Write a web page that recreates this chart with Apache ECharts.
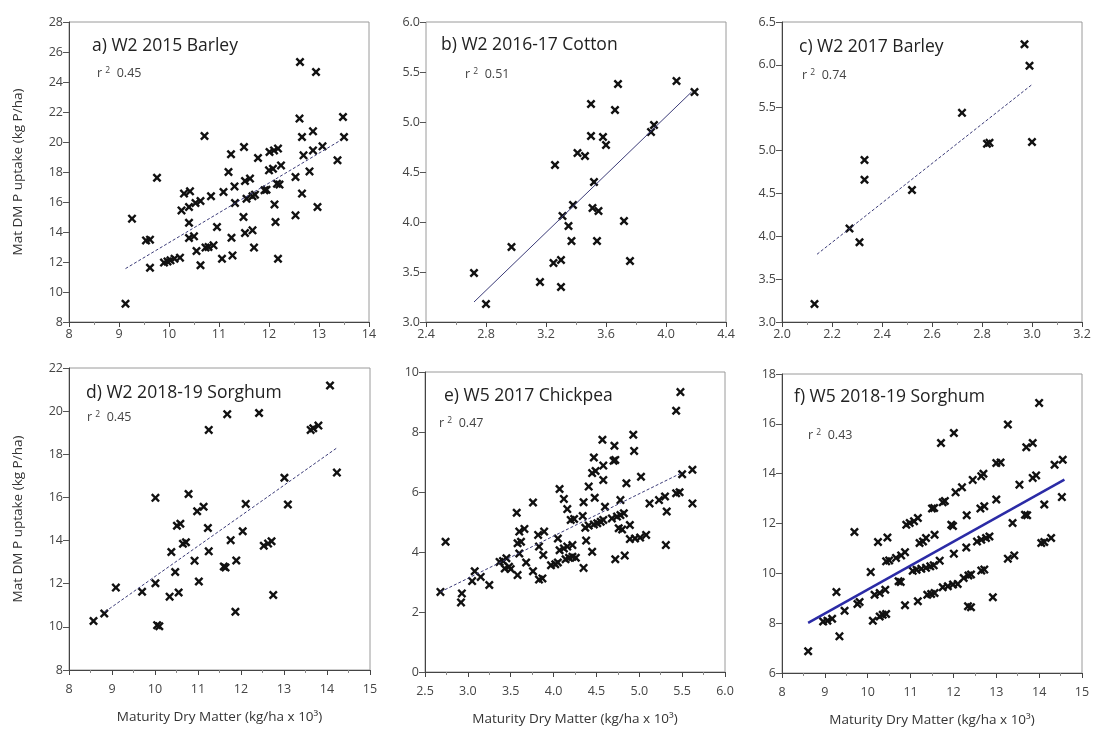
<!DOCTYPE html>
<html>
<head>
<meta charset="utf-8">
<script src="https://cdn.jsdelivr.net/npm/echarts@6/dist/echarts.min.js"></script>
<style>
html,body{margin:0;padding:0;background:#fff;}
#chart{width:1094px;height:736px;}
</style>
</head>
<body>
<div id="chart"></div>
<script>
// ---------- DATA ----------
const panelTitles = ['a) W2 2015 Barley','b) W2 2016-17 Cotton','c) W2 2017 Barley','d) W2 2018-19 Sorghum','e) W5 2017 Chickpea','f) W5 2018-19 Sorghum'];
const r2Values = ['0.45','0.51','0.74','0.45','0.47','0.43'];
const yAxisName = 'Mat DM P uptake (kg P/ha)';
const xAxisName = 'Maturity Dry Matter (kg/ha x 10³)';

const ptsA = [[9.13,9.22],[9.26,14.89],[9.76,17.62],[9.54,13.44],[9.62,13.49],[9.62,11.62],[9.90,11.96],[9.97,12.04],[10.03,12.11],[10.11,12.22],[10.22,12.29],
[10.63,11.78],[10.55,12.73],[10.73,12.96],[10.79,13.0],[10.89,13.11],[10.40,13.6],[10.50,13.71],[10.40,14.62],[10.25,15.44],[10.40,15.67],[10.53,15.93],[10.63,16.07],
[10.30,16.56],[10.42,16.71],[10.84,16.38],[10.71,20.4],[10.96,14.33],[11.06,12.22],[11.27,12.44],[11.25,13.62],[11.09,16.67],[11.32,15.93],[11.31,17.04],[11.19,18.0],
[11.24,19.18],[11.50,19.67],[11.49,15.0],[11.52,13.93],[11.67,14.11],[11.70,12.96],[11.52,17.4],[11.62,17.56],[11.55,16.22],[11.67,16.38],[11.72,16.49],[11.78,18.93],
[11.91,16.78],[11.95,16.82],[12.0,18.11],[12.08,18.22],[12.01,19.33],[12.10,19.44],[12.18,19.56],[12.24,18.44],[12.11,15.84],[12.13,14.67],[12.18,12.22],[12.16,17.22],
[12.21,17.16],[12.53,17.67],[12.53,15.11],[12.66,16.56],[12.69,19.11],[12.66,20.33],[12.61,21.56],[12.62,25.33],[12.94,24.67],[12.81,18.04],[12.88,20.71],[12.88,19.44],
[12.97,15.67],[13.07,19.71],[13.37,18.78],[13.48,21.67],[13.50,20.33]];
const trendA = [[9.13,11.56],[13.43,20.11]];

const ptsB = [[2.72,3.49],[2.80,3.18],[2.97,3.75],[3.16,3.40],[3.25,3.59],[3.30,3.62],[3.30,3.35],[3.26,4.57],[3.31,4.06],[3.35,3.96],[3.38,4.17],[3.37,3.81],
[3.41,4.69],[3.46,4.66],[3.50,5.18],[3.50,4.86],[3.52,4.40],[3.51,4.14],[3.55,4.11],[3.54,3.81],[3.58,4.85],[3.60,4.77],[3.66,5.12],[3.68,5.38],[3.72,4.01],
[3.76,3.61],[3.90,4.90],[3.92,4.97],[4.07,5.41],[4.19,5.30]];
const trendB = [[2.72,3.20],[4.17,5.30]];

const ptsC = [[2.13,3.21],[2.27,4.09],[2.31,3.93],[2.33,4.89],[2.33,4.66],[2.52,4.54],[2.72,5.44],[2.82,5.08],[2.83,5.09],[2.97,6.24],[2.99,5.99],[3.00,5.10]];
const trendC = [[2.14,3.79],[3.0,5.77]];

const ptsD = [[8.57,10.27],[8.82,10.62],[9.09,11.82],[9.70,11.63],[10.01,12.02],[10.01,15.98],[10.05,10.08],[10.10,10.03],[10.34,11.40],[10.55,11.59],[10.47,12.54],
[10.38,13.47],[10.51,14.69],[10.59,14.78],[10.65,13.85],[10.72,13.92],[10.78,16.16],[10.92,13.07],[11.02,12.1],[10.98,15.36],[11.13,15.57],[11.25,19.13],[11.23,14.58],
[11.25,13.5],[11.60,12.80],[11.64,12.75],[11.76,14.02],[11.68,19.86],[11.89,13.08],[11.87,10.70],[12.04,14.43],[12.11,15.70],[12.42,19.91],[12.53,13.76],[12.63,13.86],
[12.71,13.97],[12.75,11.48],[13.01,16.91],[13.09,15.67],[13.62,19.13],[13.68,19.21],[13.80,19.33],[14.07,21.19],[14.23,17.15]];
const trendD = [[8.84,10.70],[14.24,18.31]];

const ptsE = [[2.74,4.34],[2.68,2.67],[2.93,2.62],[2.92,2.32],[3.05,3.03],[3.08,3.36],[3.15,3.17],[3.25,2.90],[3.37,3.67],[3.41,3.70],[3.45,3.79],[3.43,3.45],[3.48,3.51],
[3.50,3.43],[3.58,3.23],[3.57,5.31],[3.58,4.29],[3.62,4.34],[3.60,4.68],[3.66,4.77],[3.60,3.95],[3.68,3.65],[3.76,3.36],[3.76,5.65],[3.82,4.57],[3.89,4.68],[3.83,4.18],
[3.83,3.08],[3.87,3.12],[3.88,3.90],[3.97,3.56],[4.02,3.59],[4.05,3.65],[4.05,4.45],[4.07,6.10],[4.12,5.77],[4.16,5.43],[4.07,4.06],[4.12,4.12],[4.14,3.76],[4.18,3.81],
[4.22,3.84],[4.26,3.81],[4.16,4.18],[4.22,4.23],[4.20,5.07],[4.24,5.10],[4.35,3.47],[4.35,5.66],[4.34,5.20],[4.37,4.81],[4.41,4.88],[4.38,4.38],[4.45,4.01],[4.41,6.18],
[4.47,7.15],[4.45,6.63],[4.49,6.70],[4.48,5.81],[4.47,4.92],[4.51,4.96],[4.55,5.01],[4.58,5.07],[4.57,7.74],[4.58,6.88],[4.58,6.40],[4.60,5.51],[4.70,7.04],[4.72,7.07],
[4.71,7.54],[4.72,3.76],[4.68,5.12],[4.74,5.18],[4.78,5.23],[4.82,5.29],[4.76,4.79],[4.80,4.75],[4.78,5.73],[4.83,3.88],[4.85,6.29],[4.89,4.90],[4.89,4.43],[4.95,4.45],
[5.01,4.48],[5.08,4.57],[4.93,7.91],[4.94,7.37],[5.02,6.51],[5.12,5.62],[5.23,5.73],[5.30,5.85],[5.32,5.35],[5.31,4.23],[5.43,5.96],[5.47,5.99],[5.43,8.71],[5.48,9.33],
[5.50,6.59],[5.62,6.74],[5.62,5.62]];
const trendE = [[2.68,2.67],[5.51,6.66]];

const ptsF = [[8.61,6.87],[8.96,8.07],[9.06,8.10],[9.17,8.18],[9.27,9.25],[9.34,7.47],[9.46,8.50],[9.76,8.77],[9.81,8.85],[9.69,11.66],[10.07,10.05],[10.12,8.10],
[10.16,9.14],[10.28,9.21],[10.41,9.34],[10.24,11.26],[10.28,8.27],[10.35,8.34],[10.43,8.37],[10.46,11.44],[10.43,10.48],[10.50,10.52],[10.66,10.62],[10.78,10.72],[10.87,10.85],
[10.72,9.68],[10.77,9.65],[10.87,8.72],[10.90,11.95],[10.98,12.02],[11.08,12.09],[11.17,12.22],[11.17,8.88],[11.21,11.22],[11.29,11.28],[11.36,11.42],
[11.05,10.10],[11.14,10.14],[11.25,10.18],[11.36,10.22],[11.46,10.28],[11.54,10.32],[11.56,11.55],[11.68,10.51],[11.39,9.14],[11.48,9.17],[11.56,9.21],
[11.50,12.6],[11.55,12.62],[11.75,12.85],[11.80,12.9],[11.71,15.23],[11.75,9.44],[11.87,9.48],[11.99,9.55],[12.10,9.57],[11.95,11.95],[11.99,11.9],[12.01,10.79],
[12.01,15.63],[12.05,13.25],[12.2,13.45],[12.24,9.81],[12.35,9.91],[12.41,9.95],[12.34,8.68],[12.41,8.64],[12.30,11.04],[12.31,12.33],[12.45,13.75],[12.55,11.28],
[12.65,11.35],[12.76,11.42],[12.84,11.48],[12.63,12.6],[12.72,12.69],[12.65,13.9],[12.7,14.0],[12.65,10.11],[12.72,10.15],[12.92,9.04],[13.0,12.96],[13.0,14.43],
[13.1,14.45],[13.27,15.97],[13.27,10.59],[13.42,10.72],[13.38,12.02],[13.54,13.56],[13.67,12.35],[13.72,12.33],[13.70,15.06],[13.85,15.23],[13.85,13.83],[13.93,13.93],
[14.0,16.84],[14.05,11.22],[14.12,11.26],[14.12,12.76],[14.28,11.42],[14.36,14.36],[14.55,14.56],[14.53,13.06]];
const trendF = [[8.61,8.01],[14.59,13.76]];

const panelPoints = [ptsA, ptsB, ptsC, ptsD, ptsE, ptsF];
const panelTrends = [trendA, trendB, trendC, trendD, trendE, trendF];
const xRanges = [[8,14,1],[2.4,4.4,0.4],[2.0,3.2,0.2],[8,15,1],[2.5,6.0,0.5],[8,15,1]];
const yRanges = [[8,28,2],[3.0,6.0,0.5],[3.0,6.5,0.5],[8,22,2],[0,10,2],[6,18,2]];
const xDecimals = [0,1,1,0,1,0];
const yDecimals = [0,1,1,0,0,0];

// ---------- LAYOUT ----------
const grids = [
  {left:69, top:22, width:300, height:300},
  {left:426, top:22, width:300, height:300},
  {left:782, top:22, width:300, height:300},
  {left:69, top:368, width:301, height:302},
  {left:425, top:372, width:300, height:300},
  {left:782, top:374, width:300, height:299}
];
const titlePos = [[87,32],[436,31],[794,33],[81,379],[439,382],[789,383]];
const r2Pos = [[92,61],[460,62],[797,63],[82,405],[434,411],[803,423]];

const font = 'Open Sans, sans-serif';
const xMark = 'path://M0,1.9 L1.9,0 L5,3.1 L8.1,0 L10,1.9 L6.9,5 L10,8.1 L8.1,10 L5,6.9 L1.9,10 L0,8.1 L3.1,5 Z';

const chart = echarts.init(document.getElementById('chart'), null, {renderer:'canvas'});

const option = {
  backgroundColor:'#fff',
  animation:false,
  textStyle:{fontFamily:font},
  grid: grids.map(g => Object.assign({show:true, borderColor:'#9a9a9a', borderWidth:1, backgroundColor:'transparent'}, g)),
  title: [],
  xAxis: [],
  yAxis: [],
  series: []
};

for (let i = 0; i < 6; i++) {
  const xr = xRanges[i], yr = yRanges[i];
  const bottomRow = i >= 3;
  option.xAxis.push({
    gridIndex:i, type:'value', min:xr[0], max:xr[1], interval:xr[2],
    name: bottomRow ? xAxisName : '', nameLocation:'middle', nameGap:40,
    nameTextStyle:{fontSize:13.5, color:'#333', fontFamily:font},
    axisLine:{show:true, lineStyle:{color:'#444', width:1}},
    axisTick:{show:true, length:5, lineStyle:{color:'#444'}},
    minorTick:{show:true, splitNumber:2, length:3, lineStyle:{color:'#888'}},
    splitLine:{show:false},
    axisLabel:{fontSize:12.5, color:'#444', margin:bottomRow ? 13 : 6, fontFamily:font,
      formatter: v => v.toFixed(xDecimals[i])}
  });
  option.yAxis.push({
    gridIndex:i, type:'value', min:yr[0], max:yr[1], interval:yr[2],
    name: (i === 0 || i === 3) ? yAxisName : '', nameLocation:'middle', nameGap:44,
    nameTextStyle:{fontSize:13.5, color:'#333', fontFamily:font},
    axisLine:{show: i !== 1, lineStyle:{color:'#444', width:1}},
    axisTick:{show:true, length:6, lineStyle:{color:'#555'}},
    splitLine:{show:false},
    axisLabel:{fontSize:12.5, color:'#444', margin:6, fontFamily:font,
      formatter: v => v.toFixed(yDecimals[i])}
  });
  option.series.push({
    type:'scatter', xAxisIndex:i, yAxisIndex:i,
    data: panelPoints[i], symbol:xMark, symbolSize:9,
    itemStyle:{color:'#111', opacity:1}
  });
  option.series.push({
    type:'line', xAxisIndex:i, yAxisIndex:i,
    data: panelTrends[i], symbol:'none', silent:true,
    lineStyle: i === 5 ? {color:'#2b2ba6', width:2.5, type:'solid'}
             : {color:'#3b3b78', width:1, type: i === 1 ? 'solid' : [3,2]},
    z:3
  });
  option.title.push({
    text: panelTitles[i], left: titlePos[i][0], top: titlePos[i][1],
    textStyle:{fontSize:17.5, fontWeight:'normal', color:'#222', fontFamily:font}
  });
  option.title.push({
    text: '{r|r} {s|2}  {v|' + r2Values[i] + '}', left: r2Pos[i][0], top: r2Pos[i][1],
    textStyle:{fontSize:12.5, fontWeight:'normal', color:'#444', fontFamily:font,
      rich:{r:{fontSize:12.5, color:'#444', fontFamily:font}, s:{fontSize:8.5, color:'#444', verticalAlign:'top', padding:[0,0,6,0], fontFamily:font}, v:{fontSize:12.5, color:'#444', fontFamily:font}}}
  });
}

chart.setOption(option);
</script>
</body>
</html>
